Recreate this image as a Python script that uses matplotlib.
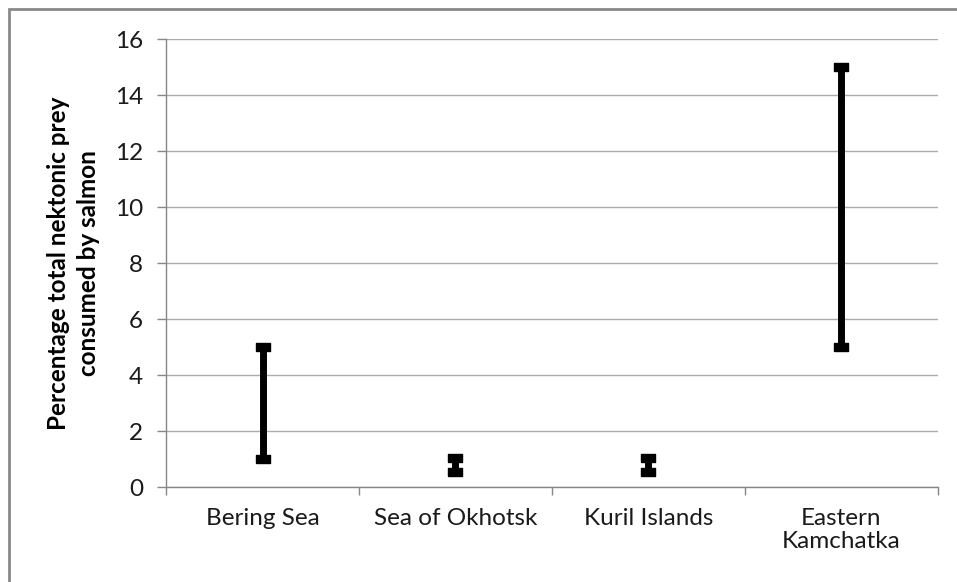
import numpy as np
import matplotlib.pyplot as plt
from matplotlib.patches import Rectangle

regions = ['Bering Sea', 'Sea of Okhotsk', 'Kuril Islands', 'Eastern\nKamchatka']
low = [1.0, 0.55, 0.55, 5.0]
high = [5.0, 1.05, 1.05, 15.0]
yticks = [0, 2, 4, 6, 8, 10, 12, 14, 16]

plt.rcParams['font.family'] = ['Lato', 'DejaVu Sans']

fig = plt.figure(figsize=(9.57, 5.82), dpi=100)
ax = fig.add_axes([166/957, 1-487/582, (938-166)/957, (487-39)/582])

# outer chart border (runs off the right and bottom edges)
fig.patches.append(Rectangle((9/957, -0.1), 1.2, 1 - 9/582 + 0.1, transform=fig.transFigure,
                             fill=False, edgecolor='#898989', linewidth=2))

x = np.arange(1, len(regions)+1)
cap = [(-1.0, -0.6), (1.0, -0.6), (1.0, 0.6), (-1.0, 0.6), (-1.0, -0.6)]

ax.vlines(x, low, high, color='black', linewidth=5, zorder=3)
ax.plot(x, low, linestyle='none', marker=cap, markersize=9.5, color='black', zorder=4)
ax.plot(x, high, linestyle='none', marker=cap, markersize=9.5, color='black', zorder=4)

ax.set_xlim(0.5, len(regions)+0.5)
ax.set_ylim(0, 16)
ax.set_yticks(yticks)
ax.set_yticklabels([str(v) for v in yticks])
ax.yaxis.grid(True, color='#ababab', linewidth=1)
ax.set_axisbelow(True)

ax.set_xticks(x)
ax.set_xticklabels(regions, fontsize=17.5, color='#1a1a1a', linespacing=1.15)
ax.set_xticks(np.arange(0.5, len(regions)+1, 1), minor=True)
ax.tick_params(axis='x', which='major', length=0, pad=15)
ax.tick_params(axis='x', which='minor', length=6, width=1, color='#868686', direction='out')
ax.tick_params(axis='y', length=6.5, width=1, color='#868686', pad=10, labelsize=17.5, labelcolor='#1a1a1a')

for s in ['top', 'right']:
    ax.spines[s].set_visible(False)
for s in ['left', 'bottom']:
    ax.spines[s].set_color('#868686')
    ax.spines[s].set_linewidth(1)

ax.set_ylabel('Percentage total nektonic prey\nconsumed by salmon', fontsize=17.5,
              fontweight='bold', labelpad=11, linespacing=1.35)

fig.savefig('out.png', dpi=100)
